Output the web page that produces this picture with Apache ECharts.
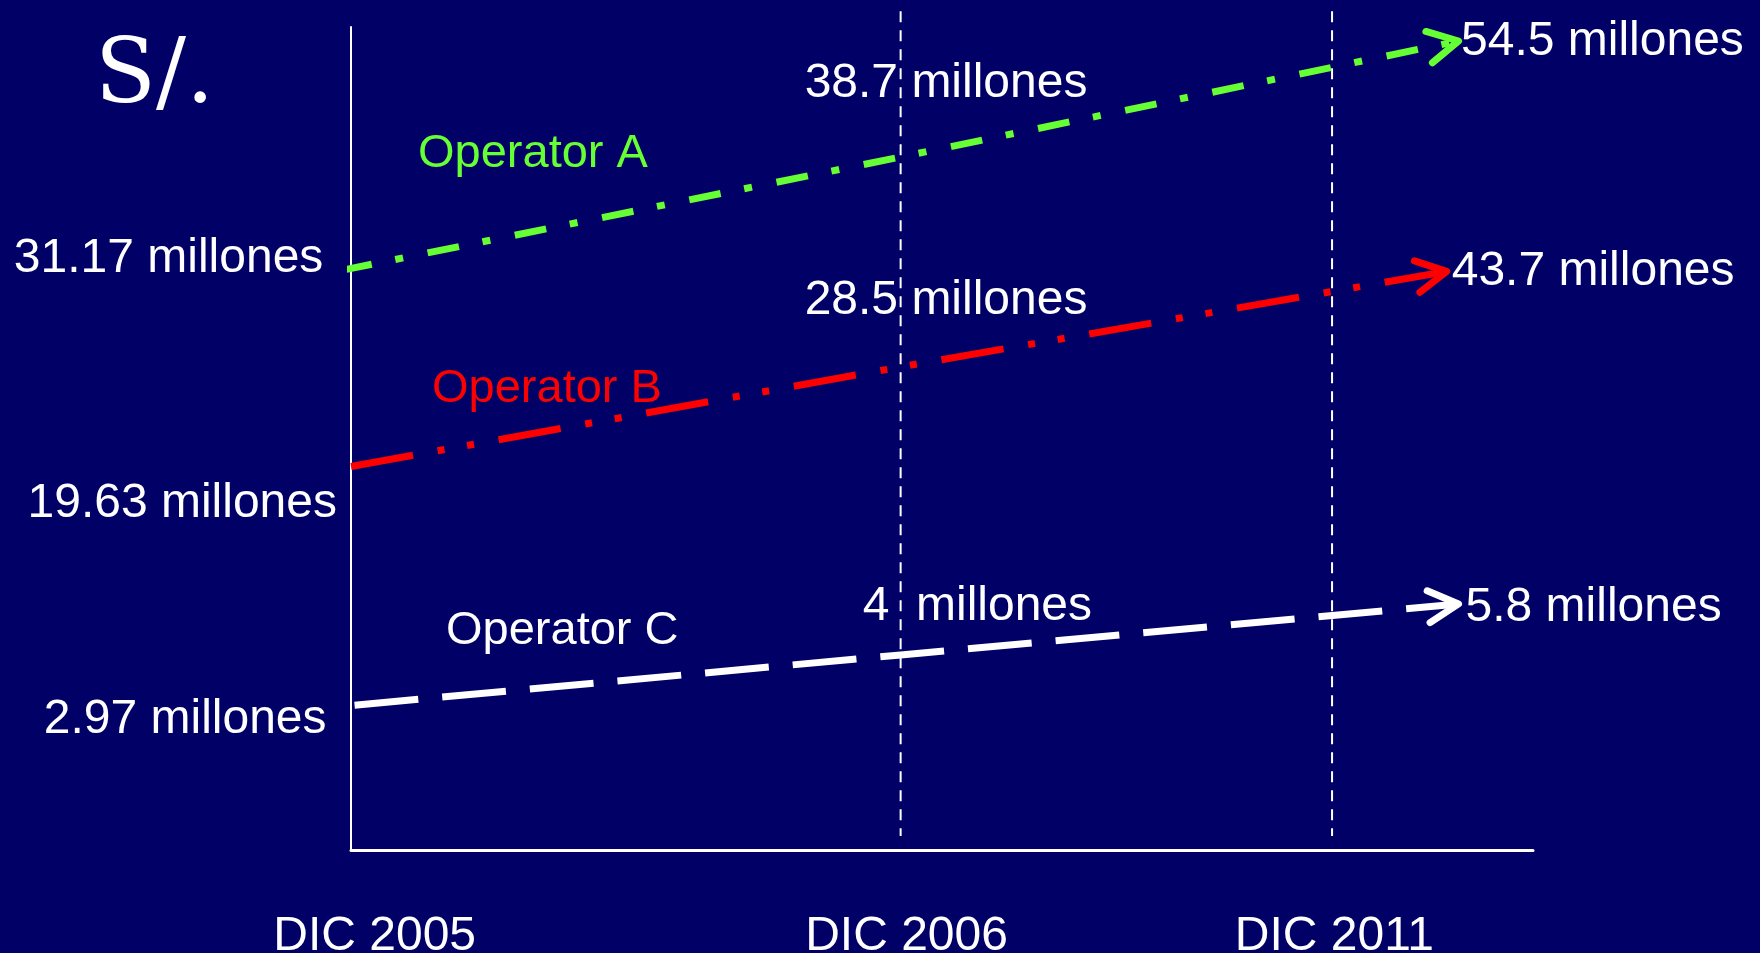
<!DOCTYPE html>
<html>
<head>
<meta charset="utf-8">
<script src="https://cdn.jsdelivr.net/npm/echarts@6/dist/echarts.min.js"></script>
<style>
  html, body { margin: 0; padding: 0; background: #000066; }
  #chart { width: 1760px; height: 953px; }
</style>
</head>
<body>
<div id="chart"></div>
<script>
const periods = ['DIC 2005', 'DIC 2006', 'DIC 2011'];
const operators = ['Operator A', 'Operator B', 'Operator C'];
const amountsStart = [31.17, 19.63, 2.97];   // millones, DIC 2005
const amounts2006 = [38.7, 28.5, 4];         // millones, DIC 2006
const amounts2011 = [54.5, 43.7, 5.8];       // millones, DIC 2011
const heightStart = [70.4, 46.6, 17.6];
const height2006 = [84.2, 58.7, 23.7];
const heightEnd = [98.3, 70.3, 29.9];
const xStart = [-0.9, 0, 0.3];
const x2006 = 46.5;
const xEnd = [93.7, 92.7, 93.7];
const guideX = [46.5, 83];

// ---- styles / layout ----
const FONT = '"Liberation Sans", Arial, sans-serif';
const colors = ['#66FF33', '#FF0000', '#FFFFFF'];
const dashes = [[32, 24, 8, 25], [63, 25, 7, 23, 7, 25], [64, 24]];
const startOff = [[-17, -12], [-14, 37], [-28, 15]];
const midOff = [[-96, -73], [-96, -66], [-38, -48]];
const endOff = [[2.5, 1], [5, 0], [7, 4]];
const labelX = [2.0, 47.0, 83.2];

const fmt = v => (Number.isInteger(v) ? v + ' ' : String(v)) + ' millones';
const lbl = (align, off, v) => ({
  show: true, position: 'inside', align: align, verticalAlign: 'middle',
  offset: off, formatter: fmt(v), color: '#ffffff', fontSize: 48, fontFamily: FONT
});

const chart = echarts.init(document.getElementById('chart'), null, { renderer: 'canvas' });

const lineSeries = operators.map((name, i) => ({
  name: name, type: 'line', clip: false, silent: true, z: 3,
  symbol: 'circle', symbolSize: 1, showSymbol: true,
  itemStyle: { color: 'rgba(0,0,0,0)', borderWidth: 0 },
  lineStyle: { color: colors[i], width: 7, type: dashes[i], cap: 'butt' },
  data: [
    { value: [xStart[i], heightStart[i]], label: lbl('right', startOff[i], amountsStart[i]) },
    { value: [x2006, height2006[i]], label: lbl('left', midOff[i], amounts2006[i]) },
    { value: [xEnd[i], heightEnd[i]], label: lbl('left', endOff[i], amounts2011[i]) }
  ]
}));

const guideSeries = guideX.map(x => ({
  type: 'line', clip: false, silent: true, z: 1, symbol: 'none',
  lineStyle: { color: '#ffffff', width: 2, type: [11, 8] },
  data: [[x, 101.9], [x, 1.7]]
}));

const arrowSeries = {
  type: 'custom', clip: false, silent: true, z: 4,
  renderItem: (params, api) => {
    const p0 = api.coord([api.value(0), api.value(1)]);
    const p1 = api.coord([api.value(2), api.value(3)]);
    const ang = Math.atan2(p1[1] - p0[1], p1[0] - p0[0]);
    const L = 34, h = 28 * Math.PI / 180;
    const a1 = [p1[0] - L * Math.cos(ang - h), p1[1] - L * Math.sin(ang - h)];
    const a2 = [p1[0] - L * Math.cos(ang + h), p1[1] - L * Math.sin(ang + h)];
    return {
      type: 'polyline',
      shape: { points: [a1, p1, a2] },
      style: { stroke: api.visual('color'), lineWidth: 7, fill: null, lineCap: 'round', lineJoin: 'round' }
    };
  },
  data: operators.map((n, i) => ({
    value: [x2006, height2006[i], xEnd[i], heightEnd[i]],
    itemStyle: { color: colors[i] }
  }))
};

const nameLabelPos = [[418, 154], [432, 389], [446, 631]];

chart.setOption({
  backgroundColor: '#000066',
  animation: false,
  grid: { left: 351, right: 227, top: 27, bottom: 103, containLabel: false, outerBoundsMode: 'none' },
  xAxis: {
    type: 'value', min: 0, max: 100,
    axisLine: { show: true, onZero: false, lineStyle: { color: '#ffffff', width: 3 } },
    axisTick: { show: false },
    splitLine: { show: false },
    axisLabel: {
      show: true, customValues: labelX, margin: 63,
      formatter: v => periods[labelX.indexOf(v)],
      color: '#ffffff', fontSize: 48, fontFamily: FONT
    }
  },
  yAxis: {
    type: 'value', min: 0, max: 100,
    axisLine: { show: true, onZero: false, lineStyle: { color: '#ffffff', width: 2 } },
    axisTick: { show: false },
    splitLine: { show: false },
    axisLabel: { show: false }
  },
  graphic: [
    { type: 'text', x: 95, y: 79, silent: true,
      style: { text: 'S/.', font: '89px "DejaVu Serif", serif', fill: '#ffffff',
               verticalAlign: 'middle', textVerticalAlign: 'middle' } }
  ].concat(operators.map((n, i) => ({
    type: 'text', x: nameLabelPos[i][0], y: nameLabelPos[i][1], silent: true,
    style: { text: n, font: '47px ' + FONT, fill: colors[i],
             verticalAlign: 'middle', textVerticalAlign: 'middle' }
  }))),
  series: guideSeries.concat(lineSeries, [arrowSeries])
});
</script>
</body>
</html>
